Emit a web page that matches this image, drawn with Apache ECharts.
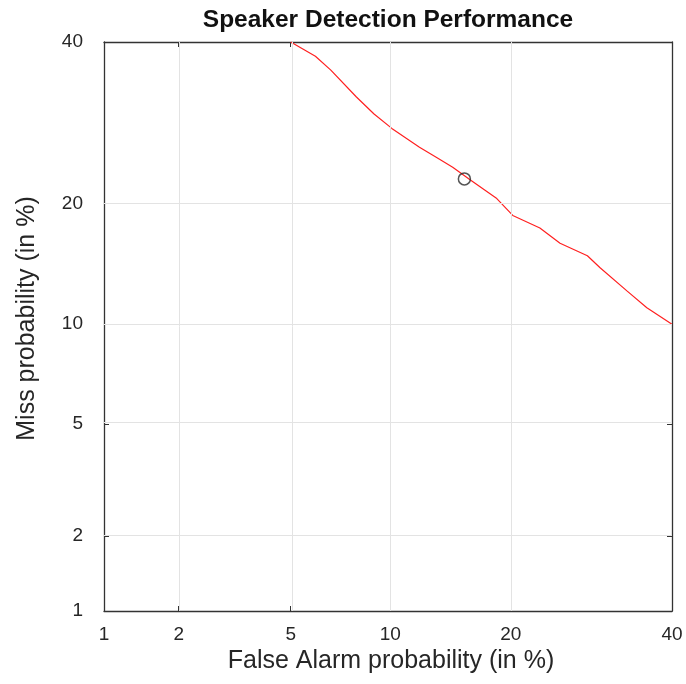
<!DOCTYPE html>
<html>
<head>
<meta charset="utf-8">
<script src="https://cdn.jsdelivr.net/npm/echarts@6/dist/echarts.min.js"></script>
<style>
  html, body { margin: 0; padding: 0; background: #fff; }
  #chart { width: 686px; height: 684px; }
</style>
</head>
<body>
<div id="chart"></div>
<script>
// DET curve, values in percent
const faPct = [5.0, 6.0, 6.7, 8.0, 9.0, 10.1, 12.0, 13.3, 14.6, 16.1, 18.6, 20.2, 23.1, 25.4, 28.7, 30.3, 33.8, 36.5, 40.0];
const missPct = [40.0, 38.0, 36.1, 32.5, 30.3, 28.5, 26.2, 25.0, 23.9, 22.5, 20.5, 18.8, 17.6, 16.2, 15.1, 14.1, 12.3, 11.1, 10.0];
const opPoint = [15.6, 22.6];
const tickPct = [1, 2, 5, 10, 20, 40];
const axisMin = 1, axisMax = 40;

// inverse normal CDF (Acklam) – the probit scale used by DET plots
function probit(p) {
  const a = [-3.969683028665376e+01, 2.209460984245205e+02, -2.759285104469687e+02,
    1.383577518672690e+02, -3.066479806614716e+01, 2.506628277459239e+00];
  const b = [-5.447609879822406e+01, 1.615858368580409e+02, -1.556989798598866e+02,
    6.680131188771972e+01, -1.328068155288572e+01];
  const c = [-7.784894002430293e-03, -3.223964580411365e-01, -2.400758277161838e+00,
    -2.549671010229297e+00, 4.374664141464968e+00, 2.938163982698783e+00];
  const d = [7.784695709041462e-03, 3.224671290700398e-01, 2.445134137142996e+00,
    3.754408661907416e+00];
  const pl = 0.02425;
  let q, r;
  if (p < pl) {
    q = Math.sqrt(-2 * Math.log(p));
    return (((((c[0]*q+c[1])*q+c[2])*q+c[3])*q+c[4])*q+c[5]) / ((((d[0]*q+d[1])*q+d[2])*q+d[3])*q+1);
  }
  if (p <= 1 - pl) {
    q = p - 0.5; r = q * q;
    return (((((a[0]*r+a[1])*r+a[2])*r+a[3])*r+a[4])*r+a[5])*q / (((((b[0]*r+b[1])*r+b[2])*r+b[3])*r+b[4])*r+1);
  }
  q = Math.sqrt(-2 * Math.log(1 - p));
  return -(((((c[0]*q+c[1])*q+c[2])*q+c[3])*q+c[4])*q+c[5]) / ((((d[0]*q+d[1])*q+d[2])*q+d[3])*q+1);
}
const pr = (pct) => probit(pct / 100);
const tickVals = tickPct.map(pr);
const labelOf = (v) => {
  const i = tickVals.findIndex((t) => Math.abs(t - v) < 1e-6);
  return i >= 0 ? String(tickPct[i]) : '';
};

const FONT = '"Liberation Sans", Arial, Helvetica, sans-serif';
const AX = '#333';
const TXT = '#262626';

function makeAxis(pos, showLabel, name) {
  return {
    type: 'value',
    position: pos,
    min: pr(axisMin),
    max: pr(axisMax),
    name: name || '',
    nameLocation: 'middle',
    nameGap: (pos === 'bottom') ? 37 : 64,
    nameTextStyle: {
      fontFamily: FONT, fontSize: 25, color: TXT,
      padding: pos === 'left' ? [0, 0, 0, 16] : [0, 0, 0, 6],
    },
    axisLine: { show: true, onZero: false, lineStyle: { color: AX, width: 1.3 } },
    axisTick: { show: true, inside: true, length: 5, customValues: tickVals, lineStyle: { color: AX } },
    axisLabel: {
      show: showLabel,
      customValues: tickVals,
      formatter: labelOf,
      margin: pos === 'bottom' ? 14 : 21,
      fontFamily: FONT,
      fontSize: 19,
      color: TXT,
    },
    splitLine: { show: false },
  };
}

const chart = echarts.init(document.getElementById('chart'), null, { renderer: 'canvas' });

const gridLineStyle = { color: '#e3e3e3', width: 1, type: 'solid' };

chart.setOption({
  animation: false,
  backgroundColor: '#fff',
  title: {
    text: 'Speaker Detection Performance',
    left: 388,
    textAlign: 'center',
    top: 8,
    padding: 0,
    textStyle: { fontFamily: FONT, fontSize: 24.5, fontWeight: 'bold', color: '#111' },
  },
  grid: { left: 104, right: 14, top: 42, bottom: 73, containLabel: false },
  xAxis: [makeAxis('bottom', true, 'False Alarm probability (in %)'), makeAxis('top', false)],
  yAxis: [makeAxis('left', true, 'Miss probability (in %)'), makeAxis('right', false)],
  series: [
    {
      // grid lines at the probit tick positions
      type: 'line',
      data: [],
      silent: true,
      markLine: {
        silent: true,
        symbol: 'none',
        label: { show: false },
        lineStyle: gridLineStyle,
        data: tickVals.slice(1, -1).map((v) => ({ xAxis: v }))
          .concat(tickVals.slice(1, -1).map((v) => ({ yAxis: v }))),
      },
      z: 1,
    },
    {
      type: 'line',
      data: faPct.map((x, i) => [pr(x), pr(missPct[i])]),
      showSymbol: false,
      smooth: false,
      lineStyle: { color: '#ff2020', width: 1.2 },
      z: 3,
    },
    {
      type: 'scatter',
      data: [[pr(opPoint[0]), pr(opPoint[1])]],
      symbol: 'circle',
      symbolSize: 12,
      itemStyle: { color: 'rgba(0,0,0,0)', borderColor: '#2a2a2a', borderWidth: 1.5 },
      z: 4,
    },
  ],
});
</script>
</body>
</html>
